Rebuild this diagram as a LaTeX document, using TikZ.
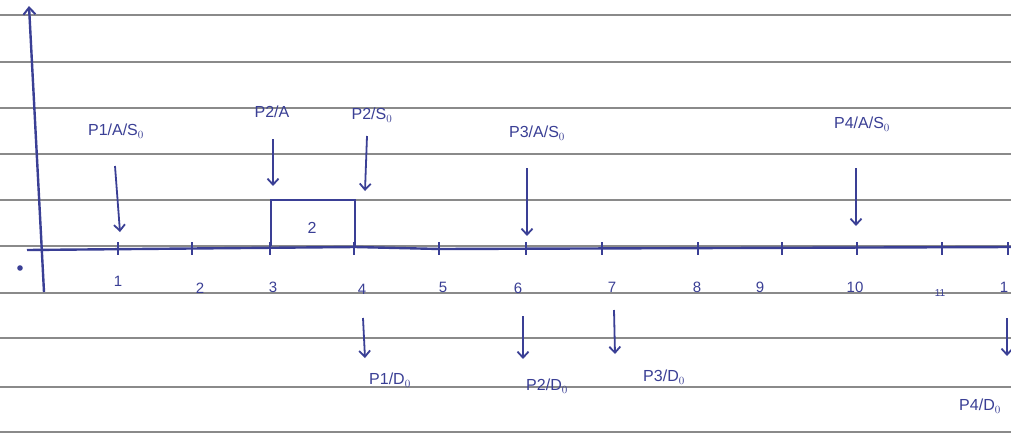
\documentclass[tikz,border=0pt]{standalone}
\usepackage{fontspec}
\setmainfont{Liberation Sans}
\usetikzlibrary{arrows.meta}
\definecolor{ink}{HTML}{3A3F95}
\definecolor{rule}{HTML}{8A8A8A}
\tikzset{
  ruled/.style={draw=rule, line width=2.4pt},
  axisline/.style={draw=ink, line width=2.4pt},
  tickmark/.style={draw=ink, line width=2.2pt},
  evarrow/.style={draw=ink, line width=1.8pt, -{Straight Barb[length=6pt,width=11pt,line width=1.8pt]}},
  lbl/.style={text=ink, font=\fontsize{16}{18}\selectfont, inner sep=1pt},
  num/.style={text=ink, font=\fontsize{15}{17}\selectfont, inner sep=1pt},
}
\begin{document}
\begin{tikzpicture}[x=1pt,y=-1pt]
\useasboundingbox (0,0) rectangle (1011,434);
\fill[white] (0,0) rectangle (1011,434);
% ruled paper lines
\foreach \yy in {15,62,108,154,200,246,293,338,387,432}
  \draw[ruled] (0,\yy) -- (1011,\yy);
% vertical axis
\coordinate (ybot) at (44,292);
\coordinate (ytop) at (29,6);
\draw[axisline, -{Straight Barb[length=7pt,width=12pt,line width=2pt]}] (ybot) -- (ytop);
% horizontal axis
\coordinate (xl) at (27,250);
\coordinate (xr) at (1011,247);
\draw[axisline] (xl) -- (355,247) -- (440,249) -- (xr);
% ticks
\foreach \n/\xx in {1/118,2/192,3/270,4/354,5/439,6/526,7/602,8/698,9/782,10/857,11/942,12/1008}
  \draw[tickmark] (\xx,242) coordinate (t\n) -- (\xx,255);
% origin mark
\fill[ink] (20,268) circle (2.8pt);
% tick labels
\node[num] (l1) at (118,281) {1};
\node[num] (l2) at (200,288) {2};
\node[num] (l3) at (273,287) {3};
\node[num] (l4) at (362,289) {4};
\node[num] (l5) at (443,287) {5};
\node[num] (l6) at (518,288) {6};
\node[num] (l7) at (612,287) {7};
\node[num] (l8) at (697,287) {8};
\node[num] (l9) at (760,287) {9};
\node[num] (l10) at (855,287) {10};
\node[num, font=\fontsize{10}{11}\selectfont] (l11) at (940,293) {11};
\node[num] (l12) at (1004,287) {1};
% box
\draw[draw=ink, line width=1.8pt] (271,246) -- (271,200) -- (355,200) -- (355,246);
\node[num, font=\fontsize{16}{18}\selectfont] (two) at (312,228) {2};
% upper labels
\node[lbl] (a1) at (116,131) {P1/A/S$_0$};
\node[lbl] (a2) at (272,112) {P2/A};
\node[lbl] (a3) at (372,115) {P2/S$_0$};
\node[lbl] (a4) at (537,133) {P3/A/S$_0$};
\node[lbl] (a5) at (862,124) {P4/A/S$_0$};
\coordinate (a1s) at (115,166); \coordinate (a1e) at (120,232);
\coordinate (a2s) at (273,139); \coordinate (a2e) at (273,186);
\coordinate (a3s) at (367,136); \coordinate (a3e) at (365,191);
\coordinate (a4s) at (527,168); \coordinate (a4e) at (527,236);
\coordinate (a5s) at (856,168); \coordinate (a5e) at (856,226);
\draw[evarrow] (a1s) -- (a1e);
\draw[evarrow] (a2s) -- (a2e);
\draw[evarrow] (a3s) -- (a3e);
\draw[evarrow] (a4s) -- (a4e);
\draw[evarrow] (a5s) -- (a5e);
% lower labels
\node[lbl] (d1) at (390,380) {P1/D$_0$};
\node[lbl] (d2) at (547,386) {P2/D$_0$};
\node[lbl] (d3) at (664,377) {P3/D$_0$};
\node[lbl] (d4) at (980,406) {P4/D$_0$};
\coordinate (d1s) at (363,318); \coordinate (d1e) at (365,358);
\coordinate (d2s) at (523,316); \coordinate (d2e) at (523,359);
\coordinate (d3s) at (614,310); \coordinate (d3e) at (615,354);
\coordinate (d4s) at (1007,318); \coordinate (d4e) at (1007,356);
\draw[evarrow] (d1s) -- (d1e);
\draw[evarrow] (d2s) -- (d2e);
\draw[evarrow] (d3s) -- (d3e);
\draw[evarrow] (d4s) -- (d4e);
\end{tikzpicture}
\end{document}
